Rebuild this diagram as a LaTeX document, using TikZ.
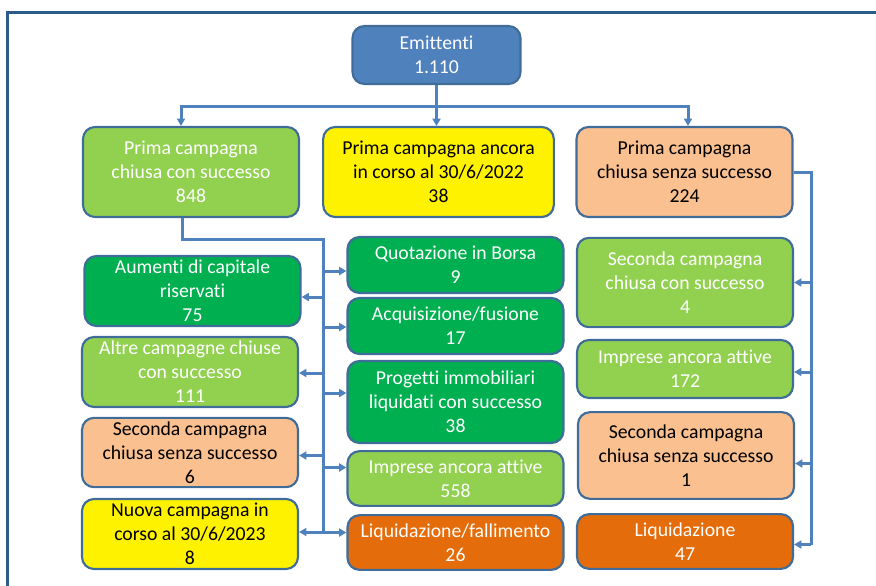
\documentclass[tikz,border=0pt]{standalone}
\usepackage{fontspec}
\setmainfont{Carlito}[RawFeature={-liga;-clig;-calt;-dlig}]
\usetikzlibrary{arrows.meta,calc}
\definecolor{EmitBlue}{HTML}{4F81BD}
\definecolor{EdgeBlue}{HTML}{3F6C98}
\definecolor{LinkBlue}{HTML}{4F81BD}
\definecolor{FrameBlue}{HTML}{2E5C8A}
\definecolor{LightGreen}{HTML}{92D050}
\definecolor{DarkGreen}{HTML}{00B050}
\definecolor{Peach}{HTML}{FAC090}
\definecolor{DeepOrange}{HTML}{E46C0A}
\tikzstyle{box}     = [draw=EdgeBlue,line width=1.6pt,rounded corners=9pt,minimum width=162pt,inner sep=1pt,align=center,font=\fontsize{14.8}{18}\selectfont]
\tikzstyle{emitbox} = [box,fill=EmitBlue,text=white,minimum width=126pt,minimum height=43.5pt]
\tikzstyle{okbox}   = [box,fill=LightGreen,text=white]
\tikzstyle{runbox}  = [box,fill=yellow,text=black]
\tikzstyle{kobox}   = [box,fill=Peach,text=black]
\tikzstyle{exitbox} = [box,fill=DarkGreen,text=white]
\tikzstyle{liqbox}  = [box,fill=DeepOrange,text=white]
\tikzstyle{link}      = [draw=LinkBlue,line width=2.25pt]
\tikzstyle{linkarrow} = [link,-{Triangle[length=5.5pt,width=6pt]}]

\begin{document}
\begin{tikzpicture}[x=0.75pt,y=-0.75pt]
  \useasboundingbox (0,0) rectangle (876,586);
  \draw[FrameBlue,line width=2.25pt] (7,586) -- (7,12) -- (876,12);

  % First campaign
  \node[emitbox] (emit) at (436.5,55) {Emittenti\\1.110};
  \node[okbox,minimum height=67.5pt] (first-ok) at (191,172) {Prima campagna\\chiusa con successo\\848};
  \node[runbox,minimum width=173pt,minimum height=67.5pt] (first-run) at (438.5,172) {Prima campagna ancora\\in corso al 30/6/2022\\38};
  \node[kobox,minimum height=67.5pt] (first-ko) at (684.5,172) {Prima campagna\\chiusa senza successo\\224};

  % After success: left column
  \node[exitbox,minimum height=52.5pt] (rights) at (192.5,291) {Aumenti di capitale\\riservati\\75};
  \node[okbox,minimum height=52.5pt] (others) at (190,372) {Altre campagne chiuse\\con successo\\111};
  \node[kobox,minimum height=52pt] (second-ko) at (190,452.5) {Seconda campagna\\chiusa senza successo\\6};
  \node[runbox,minimum height=52.5pt] (new-run) at (190,534) {Nuova campagna in\\corso al 30/6/2023\\8};

  % After success: middle column
  \node[exitbox,minimum height=42pt] (listing) at (455.5,265) {Quotazione in Borsa\\9};
  \node[exitbox,minimum height=42pt] (merger) at (455.5,326) {Acquisizione/fusione\\17};
  \node[exitbox,minimum height=61.5pt] (estate) at (455.5,402) {Progetti immobiliari\\liquidati con successo\\38};
  \node[okbox,minimum height=41pt] (active) at (455.5,478.5) {Imprese ancora attive\\558};
  \node[liqbox,minimum height=41pt] (bankrupt) at (455.5,542.5) {Liquidazione/fallimento\\26};

  % After failure: right column
  \node[okbox,minimum height=67pt] (second-ok) at (685,282.5) {Seconda campagna\\chiusa con successo\\4};
  \node[okbox,minimum height=43.5pt] (still-active) at (685,369) {Imprese ancora attive\\172};
  \node[kobox,minimum height=65pt] (second-fail) at (686,455.5) {Seconda campagna\\chiusa senza successo\\1};
  \node[liqbox,minimum height=41pt] (closed-down) at (685,541.5) {Liquidazione\\47};

  % Connectors from the top
  \coordinate (fork) at (436.5,106);
  \draw[link] (emit) -- (fork);
  \foreach \b/\dx in {first-ok/-10,first-run/-2,first-ko/3.5}
    \draw[linkarrow] (fork) -| ($(\b.north)+(\dx,0)$);

  % Left trunk
  \coordinate (bend) at (323,239);
  \coordinate (trunk) at (323,532);
  \draw[link] ($(first-ok.south)+(-9,0)$) |- (bend) -- (trunk);
  \foreach \b/\dy in {listing/6,merger/1,estate/-9,active/-11,bankrupt/-10} {
    \path ($(\b.west)+(0,\dy)$) coordinate (tip);
    \draw[linkarrow] (trunk |- tip) -- (tip);
  }
  \foreach \b/\dy in {rights/6,others/1,second-ko/3,new-run/-2} {
    \path ($(\b.east)+(0,\dy)$) coordinate (tip);
    \draw[linkarrow] (trunk |- tip) -- (tip);
  }

  % Right trunk
  \coordinate (rbend) at (811,172);
  \coordinate (rtrunk) at (811,545);
  \draw[link] (first-ko.east) -- (rbend) -- (rtrunk);
  \foreach \b/\dy in {second-ok/0,still-active/3,second-fail/8,closed-down/3} {
    \path ($(\b.east)+(0,\dy)$) coordinate (tip);
    \draw[linkarrow] (rtrunk |- tip) -- (tip);
  }
\end{tikzpicture}
\end{document}
